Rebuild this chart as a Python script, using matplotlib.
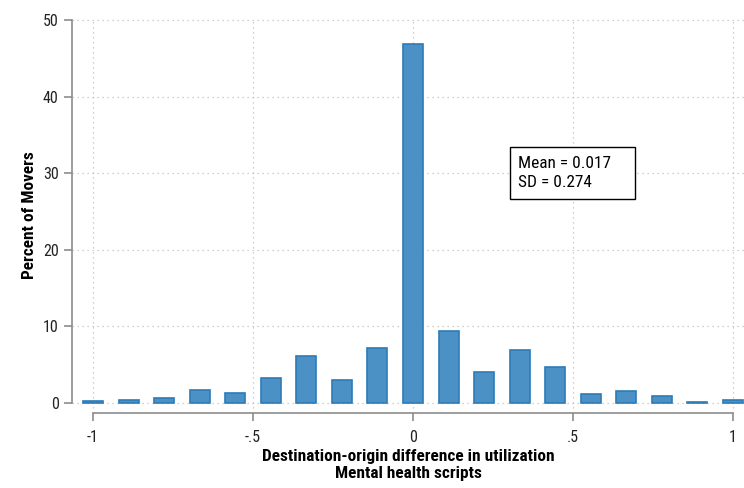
import numpy as np
import matplotlib.pyplot as plt
from matplotlib.patches import Rectangle

# destination-origin difference bins (width 1/9) and percent of movers in each
bin_centers = np.linspace(-1, 1, 19)
pct_movers = [0.25, 0.4, 0.65, 1.65, 1.25, 3.25, 6.1, 3.0, 7.15, 46.9,
              9.45, 4.05, 6.9, 4.7, 1.15, 1.55, 0.85, 0.15, 0.4]
xticks = [-1, -0.5, 0, 0.5, 1]
xtick_labels = ['-1', '-.5', '0', '.5', '1']
yticks = [0, 10, 20, 30, 40, 50]
stats_text = 'Mean = 0.017\nSD = 0.274'

plt.rcParams['font.family'] = ['Roboto Condensed', 'Liberation Sans Narrow',
                               'Liberation Sans', 'DejaVu Sans']

W, H = 744, 488
fig = plt.figure(figsize=(W / 100, H / 100), dpi=100)
# axes box in pixels: left 72, right 744, top 18, bottom 413
ax = fig.add_axes([72 / W, 1 - 413 / H, (744 - 72) / W, (413 - 18) / H])

px_x = 320.0   # pixels per unit on x
px_y = 383 / 50.0
ax.set_xlim(-1 - 21 / px_x, 1 + 11 / px_x)
ax.set_ylim(-10 / px_y, 50 + 2 / px_y)

ax.bar(bin_centers, pct_movers, width=20 / px_x, color='#4b91c6',
       edgecolor='#2c7bb6', linewidth=1.2, zorder=3)

ax.set_xticks(xticks)
ax.set_xticklabels(xtick_labels)
ax.set_yticks(yticks)
ax.grid(True, linestyle=(0, (1, 3)), color='#c0c0c0', linewidth=0.9, zorder=0)

for s in ['top', 'right']:
    ax.spines[s].set_visible(False)
ax.spines['left'].set_bounds(0, 50)
ax.spines['bottom'].set_bounds(-1, 1)
for s in ['left', 'bottom']:
    ax.spines[s].set_color('#8c8c8c')
    ax.spines[s].set_linewidth(1.2)
ax.tick_params(axis='both', direction='out', length=6, width=1.2,
               color='#8c8c8c', labelsize=11.5, labelcolor='#222222')
ax.tick_params(axis='x', pad=6)

ax.set_ylabel('Percent of Movers', fontsize=12.4, fontweight='bold', labelpad=4)
ax.set_xlabel('Destination-origin difference in utilization\nMental health scripts',
              fontsize=12.4, fontweight='bold', labelpad=3, linespacing=1.15)

# stats box
ax.add_patch(Rectangle((0.303, 26.6), 0.391, 6.8, facecolor='white',
                       edgecolor='black', linewidth=1.0, zorder=5))
ax.text(0.328, 30.0, stats_text, fontsize=12.4, va='center', ha='left',
        linespacing=1.3, zorder=6)

fig.savefig('out.png', dpi=100)
